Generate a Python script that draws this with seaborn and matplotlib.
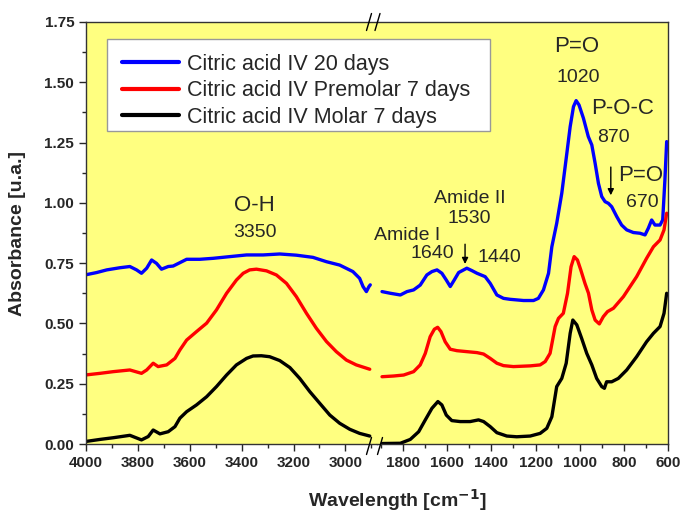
import numpy as np
import pandas as pd
import matplotlib
matplotlib.use('Agg')
import matplotlib.pyplot as plt
from matplotlib.patches import Rectangle
from matplotlib.ticker import MultipleLocator
import seaborn as sns

# wavenumber / absorbance (left part 4000-2900, right part 1900-600)
w_left_blue = [4004, 3959, 3920, 3869, 3831, 3805, 3786, 3766, 3747, 3728, 3709, 3683, 3664, 3638, 3612, 3561, 3510,
               3446, 3381, 3317, 3253, 3189, 3125, 3073, 3022, 2971, 2945, 2932, 2919, 2909, 2904]
a_left_blue = [0.701, 0.711, 0.722, 0.731, 0.736, 0.722, 0.708, 0.729, 0.763, 0.749, 0.725, 0.736, 0.738, 0.752, 0.766, 0.766, 0.770,
               0.777, 0.784, 0.784, 0.788, 0.783, 0.774, 0.756, 0.742, 0.715, 0.687, 0.653, 0.632, 0.653, 0.660]
w_left_red = [4004, 3946, 3895, 3831, 3786, 3766, 3741, 3722, 3689, 3657, 3638, 3612, 3574, 3535, 3497, 3458, 3420,
              3394, 3369, 3343, 3304, 3266, 3227, 3189, 3150, 3112, 3073, 3035, 2996, 2958, 2906]
a_left_red = [0.286, 0.293, 0.300, 0.307, 0.293, 0.307, 0.335, 0.321, 0.328, 0.355, 0.390, 0.431, 0.466, 0.501, 0.556, 0.625, 0.680,
              0.708, 0.722, 0.725, 0.718, 0.701, 0.666, 0.611, 0.542, 0.480, 0.425, 0.383, 0.348, 0.328, 0.310]
w_left_black = [4004, 3946, 3895, 3831, 3786, 3760, 3741, 3715, 3683, 3657, 3638, 3612, 3574, 3535, 3497, 3458, 3420,
                3381, 3356, 3324, 3292, 3253, 3214, 3176, 3137, 3099, 3060, 3022, 2983, 2945, 2906]
a_left_black = [0.010, 0.019, 0.026, 0.036, 0.017, 0.031, 0.058, 0.042, 0.051, 0.072, 0.107, 0.134, 0.162, 0.196, 0.238, 0.286, 0.328,
                0.355, 0.365, 0.366, 0.362, 0.346, 0.317, 0.272, 0.217, 0.169, 0.120, 0.086, 0.061, 0.044, 0.033]

w_right_blue = [1895, 1857, 1812, 1782, 1752, 1722, 1692, 1669, 1646, 1624, 1604, 1586, 1568, 1548, 1511, 1488, 1465, 1428,
                1405, 1375, 1345, 1315, 1254, 1209, 1187, 1164, 1141, 1126, 1104, 1081, 1058, 1043, 1028, 1016, 1003, 983,
                961, 945, 930, 915, 900, 885, 870, 855, 832, 810, 787, 757, 727, 704, 689, 674, 659, 636, 624, 614, 606]
a_right_blue = [0.632, 0.625, 0.618, 0.632, 0.639, 0.659, 0.701, 0.715, 0.722, 0.708, 0.680, 0.653, 0.680, 0.711, 0.729, 0.719, 0.708, 0.694,
                0.666, 0.618, 0.604, 0.600, 0.595, 0.595, 0.604, 0.639, 0.708, 0.818, 0.915, 1.040, 1.206, 1.316, 1.399, 1.424, 1.406, 1.351,
                1.275, 1.240, 1.164, 1.081, 1.026, 1.005, 0.998, 0.984, 0.943, 0.908, 0.888, 0.877, 0.874, 0.867, 0.895, 0.929, 0.908, 0.908, 0.929, 1.095, 1.254]
w_right_red = [1895, 1842, 1797, 1752, 1722, 1699, 1677, 1658, 1643, 1628, 1609, 1586, 1556, 1511, 1465, 1435, 1405, 1375,
               1345, 1300, 1224, 1179, 1156, 1134, 1111, 1096, 1074, 1055, 1039, 1025, 1010, 995, 976, 960, 945, 930,
               911, 893, 874, 847, 802, 742, 697, 666, 636, 618, 606]
a_right_red = [0.279, 0.282, 0.286, 0.300, 0.328, 0.376, 0.445, 0.476, 0.484, 0.466, 0.424, 0.393, 0.387, 0.383, 0.379, 0.373, 0.355, 0.335,
               0.325, 0.321, 0.324, 0.328, 0.342, 0.376, 0.487, 0.521, 0.542, 0.625, 0.735, 0.777, 0.763, 0.722, 0.666, 0.625, 0.556, 0.514,
               0.498, 0.528, 0.549, 0.563, 0.611, 0.694, 0.770, 0.818, 0.846, 0.888, 0.957]
w_right_black = [1895, 1812, 1767, 1729, 1699, 1669, 1642, 1624, 1604, 1579, 1541, 1496, 1458, 1435, 1405, 1375, 1330, 1285,
                 1224, 1179, 1149, 1126, 1104, 1081, 1061, 1043, 1031, 1013, 991, 968, 945, 923, 900, 888, 878, 855,
                 825, 787, 742, 697, 666, 636, 618, 606]
a_right_black = [0.002, 0.003, 0.019, 0.051, 0.100, 0.148, 0.176, 0.162, 0.120, 0.097, 0.093, 0.093, 0.100, 0.093, 0.072, 0.047, 0.033, 0.030,
                 0.033, 0.044, 0.065, 0.113, 0.238, 0.272, 0.335, 0.459, 0.514, 0.494, 0.438, 0.376, 0.328, 0.272, 0.238, 0.231, 0.258, 0.258,
                 0.272, 0.307, 0.362, 0.424, 0.459, 0.487, 0.542, 0.625]

labels = ['Citric acid IV 20 days', 'Citric acid IV Premolar 7 days', 'Citric acid IV Molar 7 days']
colors = ['#0000ff', '#ff0000', '#000000']

sns.set_style('ticks')
plt.rcParams['font.family'] = ['Liberation Sans', 'DejaVu Sans']

fig = plt.figure(figsize=(6.81, 5.15), dpi=100)
W, H = 681, 515
x0, xb, x1, y_top, y_bot = 86, 376.5, 668, 22, 444
ax1 = fig.add_axes([x0 / W, 1 - y_bot / H, (xb - x0) / W, (y_bot - y_top) / H])
ax2 = fig.add_axes([xb / W, 1 - y_bot / H, (x1 - xb) / W, (y_bot - y_top) / H])

left = [(w_left_blue, a_left_blue), (w_left_red, a_left_red), (w_left_black, a_left_black)]
right = [(w_right_blue, a_right_blue), (w_right_red, a_right_red), (w_right_black, a_right_black)]
for (w, a), lab, c in zip(left, labels, colors):
    sns.lineplot(x=w, y=a, ax=ax1, color=c, lw=2.4, label=lab)
for (w, a), c in zip(right, colors):
    sns.lineplot(x=w, y=a, ax=ax2, color=c, lw=2.4)

bg = '#ffff80'
for ax in (ax1, ax2):
    ax.set_facecolor(bg)
    ax.set_ylim(0, 1.75)
    ax.xaxis.set_major_locator(MultipleLocator(200))
    ax.xaxis.set_minor_locator(MultipleLocator(100))
    ax.yaxis.set_major_locator(MultipleLocator(0.25))
    ax.yaxis.set_minor_locator(MultipleLocator(0.125))
    ax.tick_params(which='major', direction='out', length=5, width=1, labelsize=11)
    ax.tick_params(which='minor', direction='out', length=3, width=1)
    for s in ax.spines.values():
        s.set_linewidth(1)
        s.set_color('#333333')
    ax.set_xlabel('')
    ax.set_ylabel('')

ax1.set_xlim(4000, 2880)
ax2.set_xlim(1920, 600)
ax1.spines['right'].set_visible(False)
ax2.spines['left'].set_visible(False)
ax2.tick_params(axis='y', which='both', left=False, labelleft=False)
ax1.set_yticks([0, 0.25, 0.5, 0.75, 1.0, 1.25, 1.5, 1.75])
ax1.set_yticklabels(['0.00', '0.25', '0.50', '0.75', '1.00', '1.25', '1.50', '1.75'], fontweight='bold')
ax1.set_xticks([4000, 3800, 3600, 3400, 3200, 3000])
ax1.set_xticklabels(['4000', '3800', '3600', '3400', '3200', '3000'], fontweight='bold')
ax2.set_xticks([1800, 1600, 1400, 1200, 1000, 800, 600])
ax2.set_xticklabels(['1800', '1600', '1400', '1200', '1000', '800', '600'], fontweight='bold')

# legend: white box drawn separately, entries placed as a figure legend on top
handles, labs = ax1.get_legend_handles_labels()
ax1.get_legend().remove()
fig.add_artist(Rectangle((107 / W, 1 - 131 / H), (490 - 107) / W, (131 - 39) / H, transform=fig.transFigure,
                         facecolor='white', edgecolor='#999999', lw=1, zorder=4))
leg = fig.legend(handles, labs, loc='upper left', bbox_to_anchor=(121.7 / W, 1 - 53.7 / H),
                 borderaxespad=0, borderpad=0, fontsize=15.5, frameon=False,
                 handlelength=2.65, handletextpad=0.39, labelspacing=0.26)
leg.set_zorder(5)
for ln in leg.get_lines():
    ln.set_linewidth(3)

# peak annotations
ax1.text(3349, 0.99, 'O-H', fontsize=16, ha='center', va='center')
ax1.text(3349, 0.875, '3350', fontsize=14, ha='center', va='center')
ax2.text(1012, 1.647, 'P=O', fontsize=16, ha='center', va='center')
ax2.text(1007, 1.518, '1020', fontsize=14, ha='center', va='center')
ax2.text(808, 1.39, 'P-O-C', fontsize=16, ha='center', va='center')
ax2.text(849, 1.273, '870', fontsize=14, ha='center', va='center')
ax2.text(722, 1.115, 'P=O', fontsize=16, ha='center', va='center')
ax2.text(717, 1.0, '670', fontsize=14, ha='center', va='center')
ax2.text(1780, 0.864, 'Amide I', fontsize=14, ha='center', va='center')
ax2.text(1666, 0.788, '1640', fontsize=14, ha='center', va='center')
ax2.text(1499, 1.017, 'Amide II', fontsize=14, ha='center', va='center')
ax2.text(1502, 0.934, '1530', fontsize=14, ha='center', va='center')
ax2.text(1363, 0.774, '1440', fontsize=14, ha='center', va='center')
ax2.annotate('', xy=(1519, 0.735), xytext=(1519, 0.84),
             arrowprops=dict(arrowstyle='-|>', color='black', lw=1, mutation_scale=9))
ax2.annotate('', xy=(859, 1.02), xytext=(859, 1.16),
             arrowprops=dict(arrowstyle='-|>', color='black', lw=1, mutation_scale=9))

# axis break marks
for yb, xs_pair in ((y_top, (369, 377.5)), (y_bot + 2, (369, 380))):
    for xs in xs_pair:
        fig.add_artist(plt.Line2D([(xs - 2.5) / W, (xs + 2.5) / W], [1 - (yb + 8.5) / H, 1 - (yb - 8.5) / H],
                                  color='black', lw=1))

fig.text(18 / W, 1 - 233 / H, 'Absorbance [u.a.]', rotation=90, fontsize=14, fontweight='bold',
         ha='center', va='center')
fig.text(397 / W, 1 - 500 / H, 'Wavelength [cm$^{\\mathbf{-1}}$]', fontsize=14, fontweight='bold',
         ha='center', va='center')

fig.savefig('out.png', dpi=100, facecolor='white')
